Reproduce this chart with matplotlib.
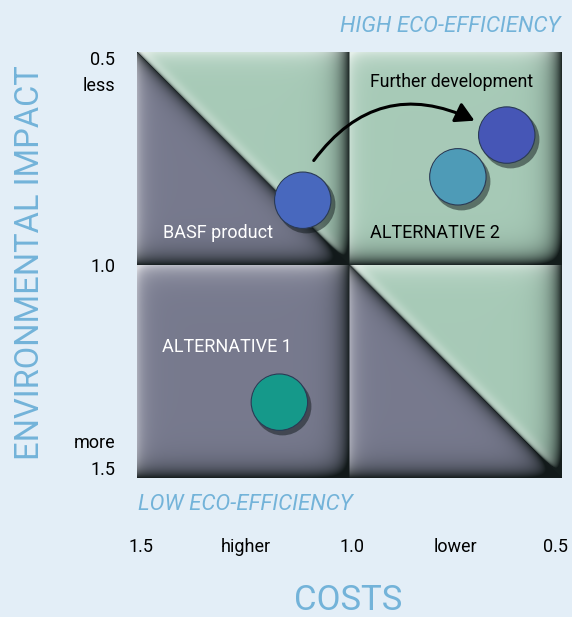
import numpy as np
import matplotlib
matplotlib.use("Agg")
import matplotlib.pyplot as plt
from matplotlib.patches import FancyArrowPatch

# ---------------- data ----------------
products = ["BASF product", "Further development", "ALTERNATIVE 2", "ALTERNATIVE 1"]
costs = [1.11, 0.63, 0.745, 1.165]            # x (relative costs)
impact = [0.848, 0.695, 0.793, 1.322]         # y (relative environmental impact)
colors = ["#4868BE", "#4656B6", "#4E9BB7", "#15998A"]

x_tick_pos = [1.5, 1.25, 1.0, 0.75, 0.5]
x_tick_lab = ["1.5", "higher", "1.0", "lower", "0.5"]
y_tick_lab = ["0.5", "less", "1.0", "more", "1.5"]

arrow_start = (1.088, 0.76)
arrow_end = (0.70, 0.664)

BG = "#E3EEF7"
BLUE_TXT = "#73B3D9"
FONT = ["Roboto", "DejaVu Sans"]
plt.rcParams["font.family"] = FONT

W, H = 572, 617
fig = plt.figure(figsize=(W / 100, H / 100), dpi=100, facecolor=BG)
ax = fig.add_axes([137 / W, (H - 478) / H, 425 / W, 426 / H])
ax.set_facecolor(BG)

# ---------------- background quadrant image ----------------
N = 426
S = N // 2
green = np.array([0.655, 0.792, 0.718])
grey = np.array([0.468, 0.478, 0.556])
dark = np.array([0.06, 0.09, 0.09])
white = np.array([1.0, 1.0, 1.0])

img = np.zeros((N, N, 3))
quad = {(0, 0): "diag", (0, 1): "green", (1, 0): "grey", (1, 1): "diag"}
yy, xx = np.mgrid[0:S, 0:S].astype(float)
u = xx + 0.5
v = yy + 0.5
for (r, c), kind in quad.items():
    if kind == "green":
        is_green = np.ones((S, S), bool)
    elif kind == "grey":
        is_green = np.zeros((S, S), bool)
    else:
        is_green = u > v
    col = np.where(is_green[..., None], green, grey)
    lt = np.clip(0.5 * np.exp(-v / 9.0) + 0.4 * np.exp(-u / 7.0), 0, 0.7)
    col = col * (1 - lt[..., None]) + white * lt[..., None]
    dr = S - u
    db = S - v
    dk = np.clip(0.95 * np.exp(-dr / 10.0) + 0.95 * np.exp(-db / 10.0), 0, 0.97)
    if kind == "diag":
        d = (u - v) / np.sqrt(2)
        shade = np.where(d < 0, 0.8 * np.exp(-np.abs(d) / 7.0), 0.9 * np.exp(-np.abs(d) / 1.3))
        dk = np.clip(dk + shade, 0, 0.97)
        lightg = np.where(d > 0, 0.28 * np.exp(-(d - 3) ** 2 / 40.0), 0)
        col = col * (1 - lightg[..., None]) + white * lightg[..., None]
    col = col * (1 - dk[..., None]) + dark * dk[..., None]
    img[r * S:(r + 1) * S, c * S:(c + 1) * S] = col

ax.imshow(img, extent=(1.5, 0.5, 1.5, 0.5), origin="upper", interpolation="bilinear",
          aspect="auto", zorder=0)

ax.set_xlim(1.5, 0.5)
ax.set_ylim(1.5, 0.5)
for s in ax.spines.values():
    s.set_visible(False)
ax.set_xticks([])
ax.set_yticks([])

# ---------------- circles ----------------
size = 1650
ax.scatter(np.array(costs) - 0.007, np.array(impact) + 0.009, s=size * 1.05, c="#10181a",
           alpha=0.5, linewidths=0, zorder=2)
ax.scatter(costs, impact, s=size, c=colors, edgecolors="#2a3a55", linewidths=0.8, zorder=3)
ax.scatter(np.array(costs) + 0.004, np.array(impact) - 0.004, s=size * 0.80, c=colors,
           linewidths=0, zorder=4)

arr = FancyArrowPatch(arrow_start, arrow_end, connectionstyle="arc3,rad=-0.42",
                      arrowstyle="-|>,head_length=8,head_width=4.5", color="black",
                      lw=2.2, zorder=5, mutation_scale=1.4)
ax.add_patch(arr)


def ftext(x_px, y_px, s, size, **kw):
    return fig.text(x_px / W, 1 - y_px / H, s, fontsize=size, **kw)


# labels inside panel
ftext(163, 233, "BASF product", 13, color="white", va="center", ha="left", zorder=6)
ftext(370, 82, "Further development", 12.8, color="black", va="center", ha="left", zorder=6)
ftext(370, 233, "ALTERNATIVE 2", 13, color="black", va="center", ha="left", zorder=6)
ftext(162, 347, "ALTERNATIVE 1", 13, color="white", va="center", ha="left", zorder=6)

# x labels below
x_centers_px = [141, 246, 352, 455, 556]
for lab, xc in zip(x_tick_lab, x_centers_px):
    ftext(xc, 547, lab, 13, ha="center", va="center", color="black")

# y labels at left
y_px = [60, 86, 267, 443, 470]
for lab, yp in zip(y_tick_lab, y_px):
    ftext(115, yp, lab, 13, ha="right", va="center", color="black")

# titles
ftext(560, 27, "HIGH ECO-EFFICIENCY", 16, ha="right", va="center", style="italic", color=BLUE_TXT)
ftext(138, 505, "LOW ECO-EFFICIENCY", 16, ha="left", va="center", style="italic", color=BLUE_TXT)
ftext(348, 601, "COSTS", 25, ha="center", va="center", color=BLUE_TXT)
ftext(30, 263, "ENVIRONMENTAL IMPACT", 23.5, ha="center", va="center",
      color=BLUE_TXT, rotation=90)

fig.savefig("out.png", dpi=100, facecolor=BG)
